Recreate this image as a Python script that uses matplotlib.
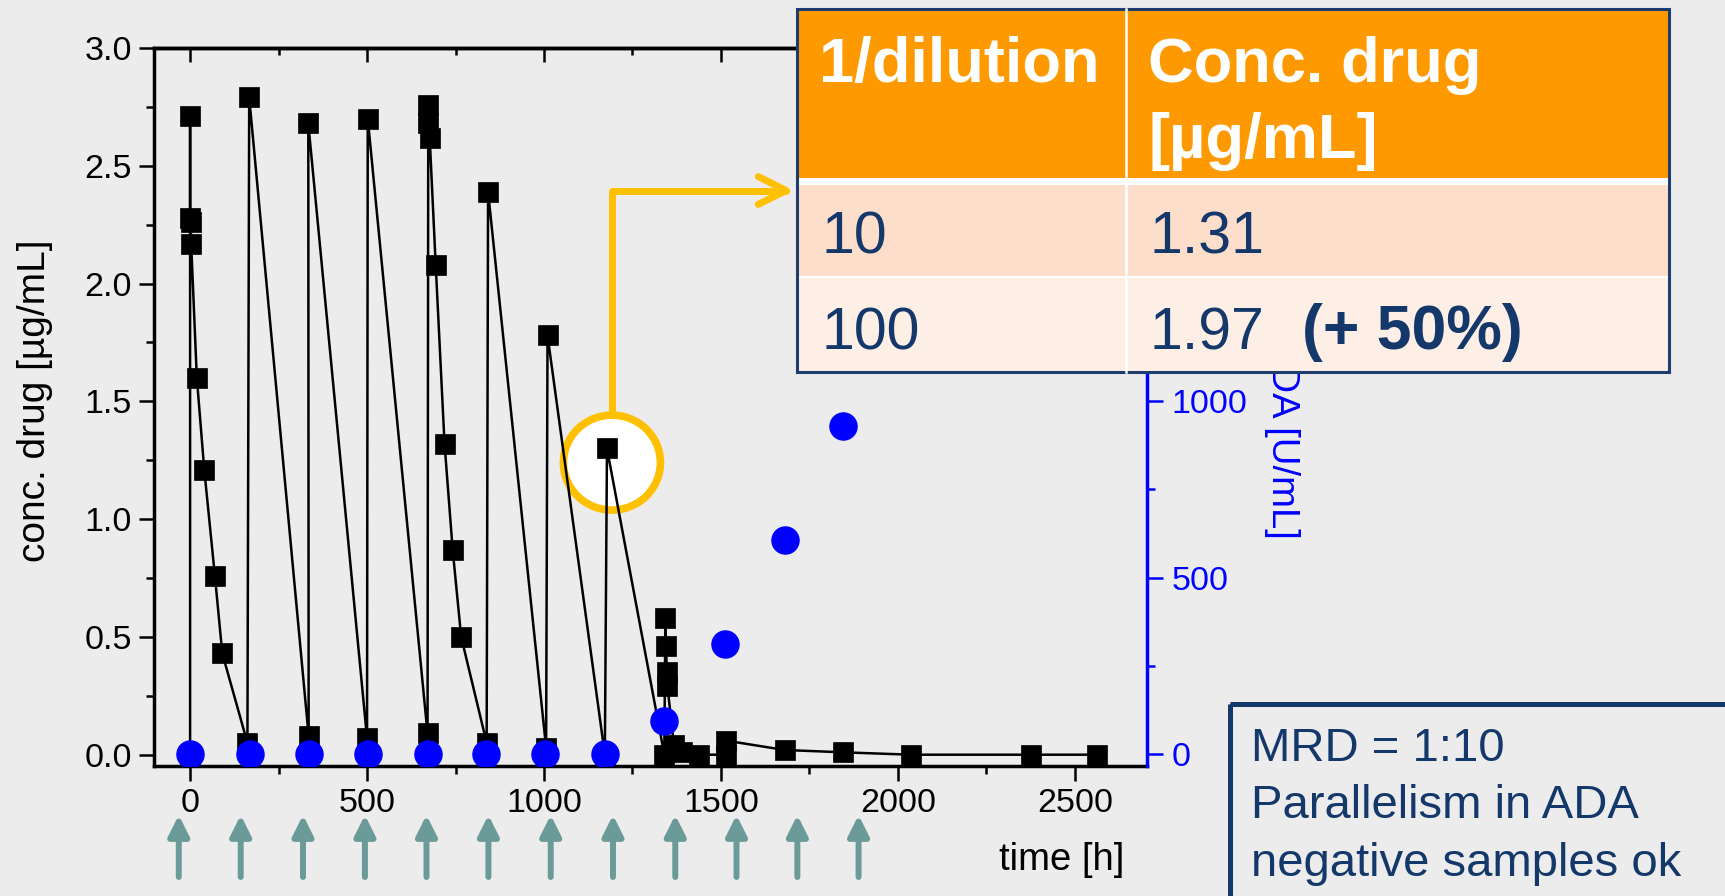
import matplotlib
matplotlib.use("Agg")
import matplotlib.pyplot as plt
from matplotlib.patches import Ellipse, Rectangle
from matplotlib.ticker import MultipleLocator, FixedLocator

plt.rcParams['font.family'] = ['Liberation Sans', 'DejaVu Sans']

# drug concentration, in sampling order [h], [ug/mL]
drug_t = [0, 0, 0, 2, 3, 19, 40, 70, 91, 162, 167, 335, 334, 500, 502, 671,
          673, 673, 677, 694, 719, 742, 766, 838, 842, 1006, 1010, 1172, 1178,
          1340, 1343, 1345, 1347, 1349, 1367, 1390, 1437, 1513, 1513, 1680,
          1846, 2037, 2377, 2562]
drug_c = [0.0, 2.71, 2.28, 2.26, 2.17, 1.60, 1.21, 0.76, 0.43, 0.05, 2.79, 0.08,
          2.68, 0.07, 2.70, 0.09, 2.76, 2.68, 2.62, 2.08, 1.32, 0.87, 0.50, 0.05,
          2.39, 0.03, 1.78, 0.0, 1.30, 0.0, 0.58, 0.46, 0.35, 0.29, 0.04, 0.01,
          0.0, 0.0, 0.06, 0.02, 0.01, 0.0, 0.0, 0.0]

# ADA titres [U/mL]
ada_t = [0, 168, 335, 503, 671, 837, 1004, 1173, 1340, 1512, 1680, 1846]
ada_v = [0, 0, 0, 0, 0, 0, 0, 0, 95, 313, 606, 930]

# dosing times (arrows below the axis)
dose_t = [-32, 143, 319, 494, 668, 843, 1019, 1195, 1371, 1544, 1716, 1889]

# highlighted sample
hl_t, hl_c = 1192, 1.24

# inset table
tbl_head = ['1/dilution', 'Conc. drug\n[µg/mL]']
tbl_dil = ['10', '100']
tbl_conc = ['1.31', '1.97']
tbl_note = '(+ 50%)'
box_lines = ['MRD = 1:10', 'Parallelism in ADA', 'negative samples ok']

BG = '#ECECEC'
NAVY = '#14386A'
YEL = '#FFC000'
W, H = 1725, 896

fig = plt.figure(figsize=(W / 100, H / 100), dpi=100, facecolor=BG)
ax = fig.add_axes([154 / W, (H - 766) / H, 993 / W, 718 / H])
ax.set_facecolor(BG)

ax.add_patch(Ellipse((hl_t, hl_c), 274, 0.403, facecolor='white',
                     edgecolor=YEL, lw=5.5, zorder=1))
ax.plot(drug_t, drug_c, color='black', lw=1.8, marker='s', ms=14.3,
        mec='black', mew=0.5, zorder=2)

ax.set_xlim(-102, 2704)
ax.set_ylim(-0.048, 3.0)
ax.xaxis.set_major_locator(MultipleLocator(500))
ax.xaxis.set_minor_locator(MultipleLocator(250))
ax.yaxis.set_major_locator(MultipleLocator(0.5))
ax.yaxis.set_minor_locator(MultipleLocator(0.25))
ax.yaxis.set_major_formatter('{x:.1f}')
ax.tick_params(axis='both', which='major', length=11, width=1.8,
               labelsize=24.5, pad=5)
ax.tick_params(axis='both', which='minor', length=5.5, width=1.8)
ax.spines['right'].set_visible(False)
for s in ['left', 'bottom', 'top']:
    ax.spines[s].set_linewidth(2.5)

ax.set_ylabel('conc. drug [µg/mL]', fontsize=28)
ax.yaxis.set_label_coords(-0.102, 0.509)
ax.set_xlabel('time [h]', fontsize=27.5, loc='right')
ax.xaxis.set_label_coords(0.977, -0.106)

# top ticks point inwards
sec = ax.secondary_xaxis('top')
sec.xaxis.set_major_locator(MultipleLocator(500))
sec.xaxis.set_minor_locator(MultipleLocator(250))
sec.tick_params(which='major', direction='in', length=10, width=1.8, labeltop=False)
sec.tick_params(which='minor', direction='in', length=5, width=1.8)
sec.spines['top'].set_linewidth(2.5)

ax2 = ax.twinx()
ax2.plot(ada_t, ada_v, linestyle='none', marker='o', ms=19.5,
         color='#0000FF', zorder=3)
ax2.set_ylim(-33.3, 2000)
# upper ADA ticks sit under the table
ax2.yaxis.set_major_locator(FixedLocator([0, 500, 1000]))
ax2.yaxis.set_minor_locator(FixedLocator([250, 750]))
ax2.tick_params(axis='y', which='major', length=11.5, width=1.8, colors='#0000FF',
                labelsize=24.5, pad=6)
ax2.tick_params(axis='y', which='minor', length=6, width=1.8, colors='#0000FF')
ax2.spines['right'].set_color('#0000FF')
ax2.spines['right'].set_linewidth(2.5)
for s in ['left', 'top', 'bottom']:
    ax2.spines[s].set_visible(False)
ax2.text(1.136, 0.455, 'ADA [U/mL]', transform=ax2.transAxes, rotation=270,
         ha='center', va='center', fontsize=27.5, color='#0000FF')

# dosing arrows
for t in dose_t:
    ax.annotate('', xy=(t, (H - 815) / H), xytext=(t, (H - 877) / H),
                xycoords=('data', 'figure fraction'),
                textcoords=('data', 'figure fraction'),
                annotation_clip=False,
                arrowprops=dict(arrowstyle='-|>', color='#6B9B99', lw=4.3,
                                mutation_scale=31, shrinkA=0, shrinkB=0))

# connector from highlighted sample to the table
ax2.annotate('', xy=(1706, 2.395), xytext=(hl_t, hl_c + 0.2015),
             xycoords=ax.transData, textcoords=ax.transData,
             annotation_clip=False,
             arrowprops=dict(arrowstyle='->', color=YEL, lw=5,
                             connectionstyle='angle,angleA=90,angleB=0,rad=0',
                             mutation_scale=50, shrinkA=0, shrinkB=0))

# overlay in figure pixels for the table and the note box
ov = fig.add_axes([0, 0, 1, 1], zorder=10)
ov.set_xlim(0, W)
ov.set_ylim(H, 0)
ov.axis('off')
ov.patch.set_visible(False)

tx0, tx1, tcol = 797, 1669, 1126
ov.add_patch(Rectangle((tx0, 9), tx1 - tx0, 363, facecolor='white', edgecolor='none'))
ov.add_patch(Rectangle((tx0, 9), tx1 - tx0, 169, facecolor='#FF9900', edgecolor='none'))
ov.add_patch(Rectangle((tx0, 185), tx1 - tx0, 91, facecolor='#FDDECA', edgecolor='none'))
ov.add_patch(Rectangle((tx0, 278), tx1 - tx0, 94, facecolor='#FDEEE6', edgecolor='none'))
ov.plot([tcol, tcol], [9, 372], color='white', lw=1.8)
ov.add_patch(Rectangle((tx0, 9), tx1 - tx0, 363, facecolor='none',
                       edgecolor='#1F3C6E', lw=2.2))

ov.text(819, 82, tbl_head[0], color='white', fontsize=45.5, fontweight='bold',
        va='baseline')
ov.text(1148, 82, tbl_head[1].split('\n')[0], color='white', fontsize=45.5,
        fontweight='bold', va='baseline')
ov.text(1148, 158, tbl_head[1].split('\n')[1], color='white', fontsize=45.5,
        fontweight='bold', va='baseline')
for i, base in enumerate([253, 349]):
    ov.text(821, base, tbl_dil[i], color=NAVY, fontsize=42.5, va='baseline')
    ov.text(1150, base, tbl_conc[i], color=NAVY, fontsize=42.5, va='baseline')
ov.text(1302, 349, tbl_note, color=NAVY, fontsize=45, fontweight='bold',
        va='baseline')

ov.add_patch(Rectangle((1230, 704), 600, 300, facecolor='none',
                       edgecolor=NAVY, lw=3.6, clip_on=False))
for line, base in zip(box_lines, [761, 818, 876]):
    ov.text(1251, base, line, color=NAVY, fontsize=34, va='baseline')

fig.savefig('out.png', dpi=100, facecolor=BG)
